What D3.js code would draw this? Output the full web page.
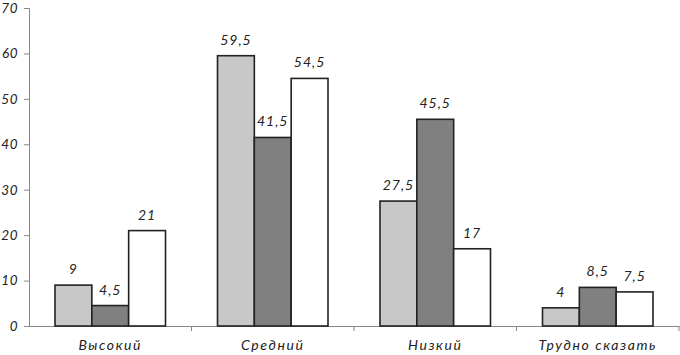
<!DOCTYPE html>
<html><head><meta charset="utf-8">
<script src="https://cdn.jsdelivr.net/npm/d3@7"></script>
<style>
body{margin:0;background:#fff;}
text{font-family:"Lato","Open Sans",sans-serif;font-style:italic;font-weight:400;fill:#222;}
</style></head>
<body><svg id="c" width="680" height="355"></svg>
<script>
const categories = ["Высокий","Средний","Низкий","Трудно сказать"];
const series1 = [9, 59.5, 27.5, 4];
const series2 = [4.5, 41.5, 45.5, 8.5];
const series3 = [21, 54.5, 17, 7.5];
const yTicks = [0,10,20,30,40,50,60,70];
const colors = ["#c8c8c8","#808080","#ffffff"];

(function(){
const svg = d3.select("#c");
const mLeft = 29, mRight = 679, mTop = 8, mBottom = 326;
const x = d3.scaleBand().domain(categories).range([mLeft,mRight]).paddingInner(0).paddingOuter(0);
const y = d3.scaleLinear().domain([0,70]).range([mBottom,mTop]);
const series = [series1, series2, series3];
const groupW = x.bandwidth()*0.68;
const xi = d3.scaleBand().domain([0,1,2]).range([0,groupW]);
const styleText = sel => sel.style("font-family","Lato, 'Open Sans', sans-serif").style("font-style","italic").style("font-weight",400).attr("fill","#222");

const ya = svg.append("g").attr("transform",`translate(${mLeft},0)`)
  .call(d3.axisLeft(y).tickValues(yTicks).tickSize(5).tickPadding(6).tickFormat(d3.format("d")));
ya.select(".domain").attr("stroke","#888");
ya.selectAll(".tick line").attr("stroke","#888");
ya.selectAll("text").attr("font-size",13.5).style("letter-spacing","0.5px").call(styleText);

const xa = svg.append("g").attr("transform",`translate(0,${mBottom})`)
  .call(d3.axisBottom(x).tickSize(0).tickPadding(14));
xa.select(".domain").attr("stroke","#888");
xa.selectAll("text").attr("font-size",14).style("letter-spacing","1.6px").call(styleText);
const bounds = categories.slice(1).map(c=>x(c)).concat([mRight]);
svg.append("g").selectAll("line").data(bounds).join("line")
  .attr("x1",d=>d).attr("x2",d=>d)
  .attr("y1",mBottom).attr("y2",mBottom+5).attr("stroke","#888");

const g = svg.append("g");
series.forEach((s,si)=>{
  g.selectAll(".b"+si).data(s).join("rect").attr("class","b"+si)
    .attr("x",(d,i)=> x(categories[i]) + (x.bandwidth()-groupW)/2 + xi(si))
    .attr("y",d=>y(d))
    .attr("width",xi.bandwidth())
    .attr("height",d=>mBottom-y(d))
    .attr("fill",colors[si]).attr("stroke","#222").attr("stroke-width",1.6);
  g.selectAll(".l"+si).data(s).join("text").attr("class","l"+si)
    .attr("x",(d,i)=> x(categories[i]) + (x.bandwidth()-groupW)/2 + xi(si) + xi.bandwidth()/2)
    .attr("y",d=>y(d)-11)
    .attr("text-anchor","middle").attr("font-size",14).style("letter-spacing","1px")
    .text(d=>String(d).replace(".",","));
});
})();
</script></body></html>
